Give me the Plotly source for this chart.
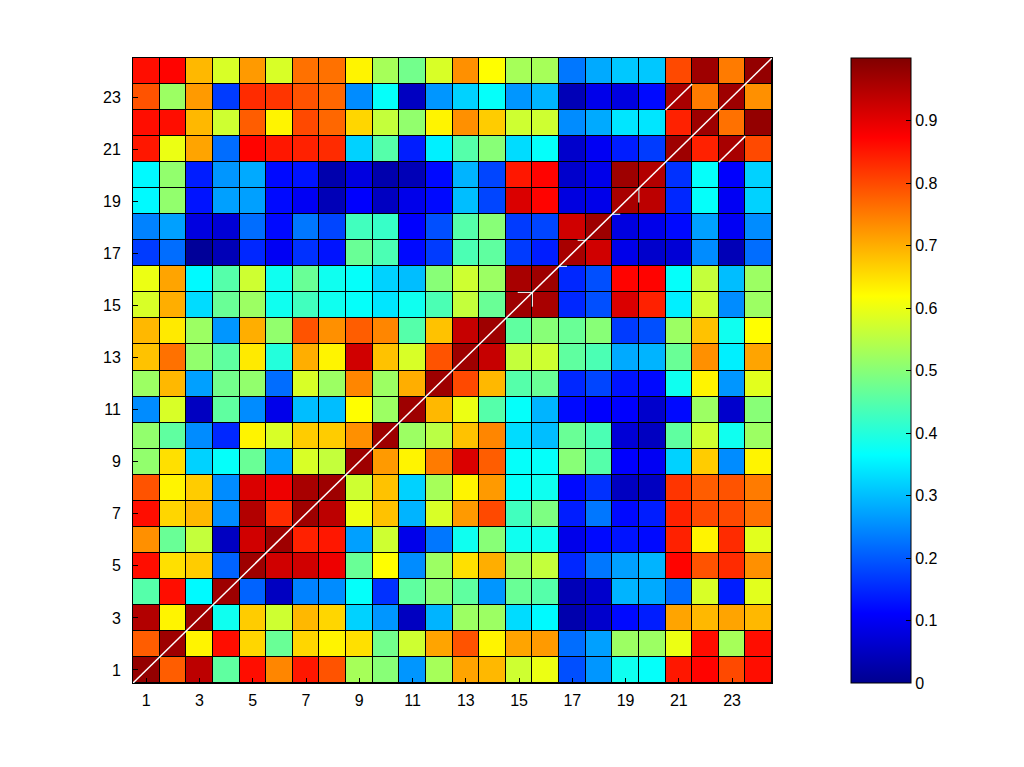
import plotly.graph_objects as go

# Row values, bottom row (1) to top row (24); columns 1..24
row_01 = [0.98,0.78,0.94,0.46,0.86,0.74,0.85,0.79,0.53,0.50,0.26,0.53,0.71,0.69,0.57,0.60,0.19,0.26,0.38,0.37,0.85,0.87,0.80,0.86]
row_02 = [0.78,0.97,0.63,0.86,0.66,0.47,0.66,0.63,0.65,0.48,0.57,0.71,0.79,0.63,0.71,0.72,0.22,0.27,0.52,0.52,0.60,0.86,0.53,0.86]
row_03 = [0.95,0.63,0.97,0.38,0.67,0.57,0.69,0.66,0.32,0.26,0.05,0.29,0.52,0.52,0.33,0.36,0.03,0.06,0.12,0.14,0.71,0.69,0.71,0.69]
row_04 = [0.45,0.86,0.36,0.97,0.21,0.05,0.24,0.25,0.37,0.16,0.46,0.50,0.46,0.26,0.47,0.45,0.04,0.06,0.29,0.28,0.22,0.58,0.14,0.59]
row_05 = [0.86,0.65,0.67,0.21,0.97,0.92,0.92,0.89,0.47,0.62,0.25,0.52,0.65,0.70,0.52,0.56,0.15,0.23,0.27,0.29,0.87,0.79,0.83,0.73]
row_06 = [0.73,0.47,0.56,0.05,0.92,0.97,0.84,0.85,0.27,0.57,0.09,0.23,0.38,0.50,0.38,0.38,0.09,0.12,0.13,0.12,0.84,0.63,0.83,0.59]
row_07 = [0.86,0.66,0.69,0.25,0.95,0.83,0.97,0.94,0.60,0.68,0.29,0.58,0.72,0.80,0.43,0.49,0.14,0.23,0.12,0.14,0.84,0.80,0.80,0.76]
row_08 = [0.79,0.63,0.67,0.25,0.91,0.89,0.96,0.97,0.57,0.68,0.32,0.53,0.63,0.72,0.37,0.38,0.12,0.16,0.05,0.05,0.82,0.78,0.79,0.75]
row_09 = [0.51,0.65,0.32,0.37,0.47,0.27,0.58,0.56,0.97,0.72,0.63,0.75,0.91,0.78,0.37,0.37,0.50,0.45,0.11,0.10,0.32,0.67,0.25,0.63]
row_10 = [0.51,0.46,0.25,0.15,0.63,0.58,0.67,0.67,0.73,0.97,0.52,0.55,0.68,0.74,0.33,0.30,0.47,0.44,0.07,0.05,0.46,0.57,0.38,0.52]
row_11 = [0.25,0.58,0.05,0.46,0.25,0.09,0.30,0.30,0.62,0.52,0.97,0.69,0.60,0.45,0.37,0.29,0.12,0.11,0.11,0.06,0.12,0.52,0.06,0.50]
row_12 = [0.52,0.69,0.27,0.48,0.51,0.22,0.58,0.52,0.74,0.52,0.70,0.97,0.80,0.69,0.45,0.47,0.15,0.18,0.13,0.12,0.38,0.63,0.26,0.59]
row_13 = [0.68,0.76,0.51,0.46,0.64,0.40,0.70,0.63,0.92,0.68,0.58,0.79,0.97,0.93,0.56,0.57,0.46,0.44,0.28,0.29,0.47,0.73,0.35,0.71]
row_14 = [0.69,0.64,0.52,0.26,0.70,0.51,0.79,0.73,0.78,0.74,0.45,0.68,0.93,0.97,0.46,0.50,0.47,0.50,0.17,0.19,0.52,0.68,0.38,0.62]
row_15 = [0.58,0.70,0.33,0.47,0.52,0.38,0.43,0.38,0.37,0.34,0.38,0.44,0.56,0.47,0.97,0.96,0.15,0.19,0.91,0.84,0.35,0.57,0.25,0.52]
row_16 = [0.60,0.71,0.36,0.45,0.57,0.38,0.47,0.38,0.37,0.32,0.30,0.50,0.57,0.52,0.96,0.97,0.15,0.19,0.87,0.87,0.37,0.56,0.30,0.52]
row_17 = [0.17,0.22,0.01,0.04,0.15,0.10,0.16,0.13,0.47,0.44,0.12,0.17,0.44,0.46,0.17,0.14,0.96,0.92,0.09,0.06,0.07,0.25,0.04,0.22]
row_18 = [0.24,0.27,0.08,0.07,0.22,0.12,0.23,0.18,0.43,0.42,0.11,0.19,0.45,0.50,0.17,0.18,0.92,0.97,0.08,0.09,0.12,0.27,0.10,0.25]
row_19 = [0.36,0.51,0.13,0.27,0.27,0.12,0.10,0.04,0.11,0.05,0.09,0.12,0.30,0.18,0.91,0.87,0.08,0.09,0.96,0.94,0.15,0.37,0.10,0.32]
row_20 = [0.36,0.51,0.14,0.26,0.28,0.12,0.13,0.03,0.08,0.03,0.04,0.12,0.29,0.18,0.85,0.87,0.06,0.09,0.97,0.95,0.16,0.37,0.11,0.32]
row_21 = [0.85,0.60,0.71,0.22,0.87,0.85,0.84,0.83,0.32,0.45,0.14,0.35,0.45,0.50,0.33,0.37,0.06,0.10,0.14,0.17,0.97,0.84,0.96,0.80]
row_22 = [0.86,0.86,0.69,0.57,0.78,0.63,0.80,0.77,0.66,0.56,0.51,0.63,0.73,0.67,0.57,0.57,0.25,0.28,0.34,0.34,0.84,0.97,0.76,0.98]
row_23 = [0.79,0.52,0.72,0.17,0.83,0.82,0.79,0.77,0.25,0.37,0.05,0.26,0.32,0.37,0.26,0.29,0.04,0.09,0.08,0.12,0.96,0.75,0.97,0.73]
row_24 = [0.86,0.87,0.69,0.58,0.72,0.58,0.76,0.76,0.63,0.53,0.48,0.58,0.73,0.62,0.53,0.53,0.23,0.28,0.31,0.31,0.80,0.97,0.75,0.98]

z = [row_01, row_02, row_03, row_04, row_05, row_06, row_07, row_08,
     row_09, row_10, row_11, row_12, row_13, row_14, row_15, row_16,
     row_17, row_18, row_19, row_20, row_21, row_22, row_23, row_24]

idx = list(range(1, 25))
tick_vals = list(range(1, 24, 2))
cbar_ticks = [0, 0.1, 0.2, 0.3, 0.4, 0.5, 0.6, 0.7, 0.8, 0.9]

jet = [
    [0.0, "rgb(0,0,143)"],
    [0.111, "rgb(0,0,255)"],
    [0.365, "rgb(0,255,255)"],
    [0.619, "rgb(255,255,0)"],
    [0.873, "rgb(255,0,0)"],
    [1.0, "rgb(128,0,0)"],
]

font = dict(family="Liberation Sans, Arial, sans-serif", size=16, color="black")

fig = go.Figure(go.Heatmap(
    x=idx, y=idx, z=z,
    zmin=0, zmax=1,
    colorscale=jet,
    xgap=1, ygap=1,
    colorbar=dict(
        x=(851 - 133) / 639, xanchor="left",
        y=0.5, yanchor="middle",
        len=1, lenmode="fraction",
        thickness=60, thicknessmode="pixels",
        xpad=0, ypad=0,
        outlinecolor="black", outlinewidth=1,
        tickvals=cbar_ticks,
        ticktext=[str(t) for t in cbar_ticks],
        ticks="inside", ticklen=5, tickcolor="black",
        tickfont=font,
    ),
))

# white diagonal and small white marks
line_w = dict(color="white", width=1.5)
thin_w = dict(color="white", width=1)
shapes = [
    dict(type="line", x0=0.5, y0=0.5, x1=24.5, y1=24.5, xref="x", yref="y", line=line_w),
    dict(type="line", x0=20.5, y0=22.5, x1=21.5, y1=23.5, xref="x", yref="y", line=line_w),
    dict(type="line", x0=22.5, y0=20.5, x1=23.5, y1=21.5, xref="x", yref="y", line=line_w),
    dict(type="line", x0=19.5, y0=19.5, x1=19.5, y1=18.95, xref="x", yref="y", line=thin_w),
    dict(type="line", x0=15.5, y0=15.5, x1=14.95, y1=15.5, xref="x", yref="y", line=thin_w),
    dict(type="line", x0=15.5, y0=15.5, x1=15.5, y1=14.95, xref="x", yref="y", line=thin_w),
    dict(type="line", x0=18.5, y0=18.5, x1=18.8, y1=18.5, xref="x", yref="y", line=thin_w),
    dict(type="line", x0=17.5, y0=17.5, x1=17.2, y1=17.5, xref="x", yref="y", line=thin_w),
    dict(type="line", x0=16.5, y0=16.5, x1=16.8, y1=16.5, xref="x", yref="y", line=thin_w),
]

fig.update_layout(
    width=1024, height=767,
    margin=dict(l=133, r=252, t=58, b=84),
    paper_bgcolor="white",
    plot_bgcolor="black",
    font=font,
    shapes=shapes,
)
fig.update_xaxes(
    range=[0.5, 24.5], tickvals=tick_vals, ticks="inside", ticklen=5,
    tickcolor="black", showgrid=False, zeroline=False, ticklabelstandoff=3,
    showline=True, linecolor="black", linewidth=1, mirror=True, tickfont=font,
)
fig.update_yaxes(
    range=[0.5, 24.5], tickvals=tick_vals, ticks="inside", ticklen=5,
    tickcolor="black", showgrid=False, zeroline=False, ticklabelstandoff=8,
    showline=True, linecolor="black", linewidth=1, mirror=True, tickfont=font,
)

fig.write_html("out.html")
